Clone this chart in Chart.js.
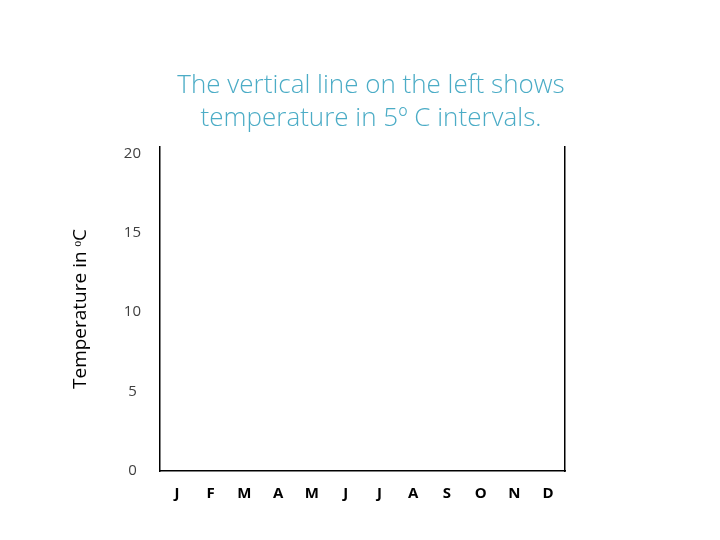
<!DOCTYPE html>
<html>
<head>
<meta charset="utf-8">
<script src="https://cdn.jsdelivr.net/npm/chart.js@4/dist/chart.umd.min.js"></script>
<style>
  body { margin: 0; background: #fff; }
  #wrap { width: 720px; height: 540px; }
</style>
</head>
<body>
<div id="wrap"><canvas id="chart" width="720" height="540"></canvas></div>
<script>
const months = ['J', 'F', 'M', 'A', 'M', 'J', 'J', 'A', 'S', 'O', 'N', 'D'];
const temperatures = [null, null, null, null, null, null, null, null, null, null, null, null];
const yTicks = [0, 5, 10, 15, 20];
const titleLines = ['The vertical line on the left shows', 'temperature in 5º C intervals.'];
const yTitle = 'Temperature in ᵒC';

const ctx = document.getElementById('chart').getContext('2d');
const chart = new Chart(ctx, {
    type: 'line',
    data: {
        labels: months,
        datasets: [{
            data: temperatures,
            borderColor: '#000',
            pointRadius: 0
        }]
    },
    options: {
        responsive: false,
        animation: false,
        layout: { padding: { left: 22, right: 0, top: 0, bottom: 0 } },
        plugins: {
            legend: { display: false },
            tooltip: { enabled: false },
            title: {
                display: true,
                text: titleLines,
                color: '#4bacc6',
                font: { family: 'Open Sans', size: 26, weight: 300, lineHeight: 1.27 },
                padding: { top: 69, bottom: 12 }
            }
        },
        scales: {
            x: {
                offset: true,
                grid: { display: false, drawTicks: false },
                border: { display: true, color: '#000', width: 1.5 },
                ticks: {
                    color: '#000',
                    padding: 14,
                    font: { family: 'Open Sans', size: 15, weight: 'bold' }
                },
                afterFit: s => { s.height = 69; }
            },
            y: {
                min: 0,
                max: 20.4,
                grid: { display: false, drawTicks: false },
                border: { display: true, color: '#000', width: 1.5 },
                afterBuildTicks: s => { s.ticks = yTicks.map(v => ({ value: v })); },
                ticks: {
                    color: '#404040',
                    crossAlign: 'center',
                    padding: 19,
                    font: { family: 'Open Sans', size: 15 }
                },
                title: {
                    display: true,
                    text: yTitle,
                    color: '#000',
                    padding: { top: 47, bottom: 0 },
                    font: { family: 'Open Sans', size: 19 }
                },
                afterFit: s => { s.width = 138; }
            },
            y2: {
                position: 'right',
                min: 0,
                max: 20.4,
                grid: { display: false, drawTicks: false },
                border: { display: true, color: '#000', width: 1.5 },
                ticks: { display: false },
                afterFit: s => { s.width = 155; }
            }
        }
    }
});
</script>
</body>
</html>
